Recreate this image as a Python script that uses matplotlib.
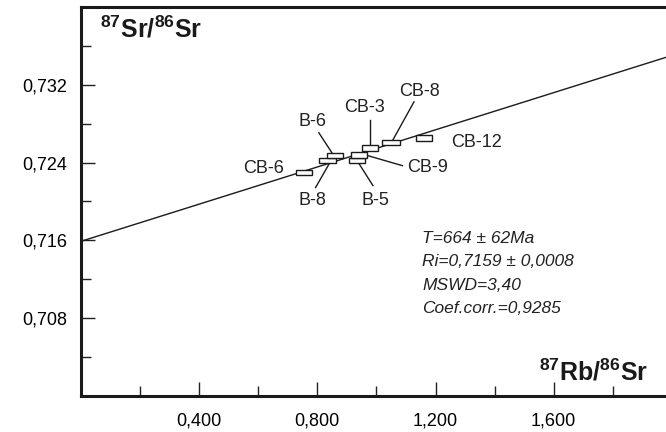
import matplotlib.pyplot as plt
import numpy as np
from matplotlib.patches import Rectangle
from matplotlib.ticker import FuncFormatter

plt.rcParams['font.family'] = ['Liberation Sans', 'DejaVu Sans']
plt.rcParams['mathtext.fontset'] = 'custom'
plt.rcParams['mathtext.rm'] = 'Liberation Sans:bold'
plt.rcParams['mathtext.bf'] = 'Liberation Sans:bold'

# samples: 87Rb/86Sr, 87Sr/86Sr and half sizes of the error boxes
samples = ["CB-6", "B-8", "B-6", "B-5", "CB-9", "CB-3", "CB-8", "CB-12"]
rb_sr = np.array([0.755, 0.834, 0.860, 0.934, 0.942, 0.978, 1.049, 1.161])
sr_sr = np.array([0.72303, 0.72422, 0.72472, 0.72422, 0.72482, 0.72547, 0.72608, 0.72656])
rb_err = np.array([0.026, 0.029, 0.026, 0.027, 0.027, 0.027, 0.029, 0.027])
sr_err = np.array([0.00026, 0.00029, 0.00029, 0.00029, 0.00029, 0.00031, 0.00027, 0.00034])

# isochron
ri = 0.7159
slope = 0.00957

x_major = [0.4, 0.8, 1.2, 1.6]
x_minor = [0.2, 0.6, 1.0, 1.4, 1.8]
y_major = [0.708, 0.716, 0.724, 0.732]
y_minor = [0.704, 0.712, 0.720, 0.728, 0.736]

stats = ["T=664 ± 62Ma", "Ri=0,7159 ± 0,0008", "MSWD=3,40", "Coef.corr.=0,9285"]

# label text position and leader line (x0, y0, x1, y1), None if no leader
label_pos = {
    "CB-6": ((0.619, 0.72338), None),
    "B-8": ((0.782, 0.72010), (0.794, 0.72144, 0.839, 0.72383)),
    "B-6": ((0.782, 0.72821), (0.805, 0.72708, 0.849, 0.72503)),
    "B-5": ((0.995, 0.72010), (0.941, 0.72390, 0.988, 0.72164)),
    "CB-9": ((1.172, 0.72349), (0.971, 0.72472, 1.088, 0.72369)),
    "CB-3": ((0.961, 0.72964), (0.978, 0.72841, 0.978, 0.72577)),
    "CB-8": ((1.144, 0.73128), (1.127, 0.73026, 1.056, 0.72636)),
    "CB-12": ((1.340, 0.72605), None),
}

fig = plt.figure(figsize=(6.66, 4.32), dpi=100)
ax = fig.add_axes([81 / 666, 36.3 / 432, 585 / 666, 388.4 / 432])
ax.set_xlim(0, 1.98)
ax.set_ylim(0.700, 0.740)

ax.spines['right'].set_visible(False)
for s in ['left', 'top', 'bottom']:
    ax.spines[s].set_linewidth(2.2)
    ax.spines[s].set_color('#1a1a1a')

ax.set_xticks(x_major)
ax.set_xticks(x_minor, minor=True)
ax.set_yticks(y_major)
ax.set_yticks(y_minor, minor=True)
fmt = FuncFormatter(lambda v, p: f"{v:.3f}".replace('.', ','))
ax.xaxis.set_major_formatter(fmt)
ax.yaxis.set_major_formatter(fmt)
ax.tick_params(which='major', direction='in', length=10, width=1, labelsize=13, color='#222222')
ax.tick_params(which='minor', direction='in', length=7, width=1, color='#222222')
ax.tick_params(axis='y', which='major', pad=10)
ax.tick_params(axis='x', which='major', pad=12)
ax.tick_params(top=False, right=False, which='both')

xs = np.array(ax.get_xlim())
ax.plot(xs, ri + slope * xs, color='#1a1a1a', lw=1.0, zorder=2, clip_on=False)

for x, y, ex, ey in zip(rb_sr, sr_sr, rb_err, sr_err):
    ax.add_patch(Rectangle((x - ex, y - ey), 2 * ex, 2 * ey, facecolor='white',
                           edgecolor='#1a1a1a', lw=1.0, zorder=3))

for name in samples:
    (tx, ty), leader = label_pos[name]
    ax.text(tx, ty, name, ha='center', va='center', fontsize=13, color='#222222')
    if leader:
        ax.plot([leader[0], leader[2]], [leader[1], leader[3]], color='#1a1a1a', lw=1.0)

ax.text(0.032, 0.9235, r"$^{87}$Sr/$^{86}$Sr", transform=ax.transAxes, fontsize=18,
        fontweight='bold', va='baseline', ha='left', color='#1a1a1a')
ax.text(0.969, 0.040, r"$^{87}$Rb/$^{86}$Sr", transform=ax.transAxes, fontsize=18,
        fontweight='bold', va='baseline', ha='right', color='#1a1a1a')

for i, line in enumerate(stats):
    ax.text(0.583, 0.406 - i * 0.0605, line, transform=ax.transAxes, fontsize=12.5,
            style='italic', ha='left', va='center', color='#222222')

fig.savefig("out.png", dpi=100)
